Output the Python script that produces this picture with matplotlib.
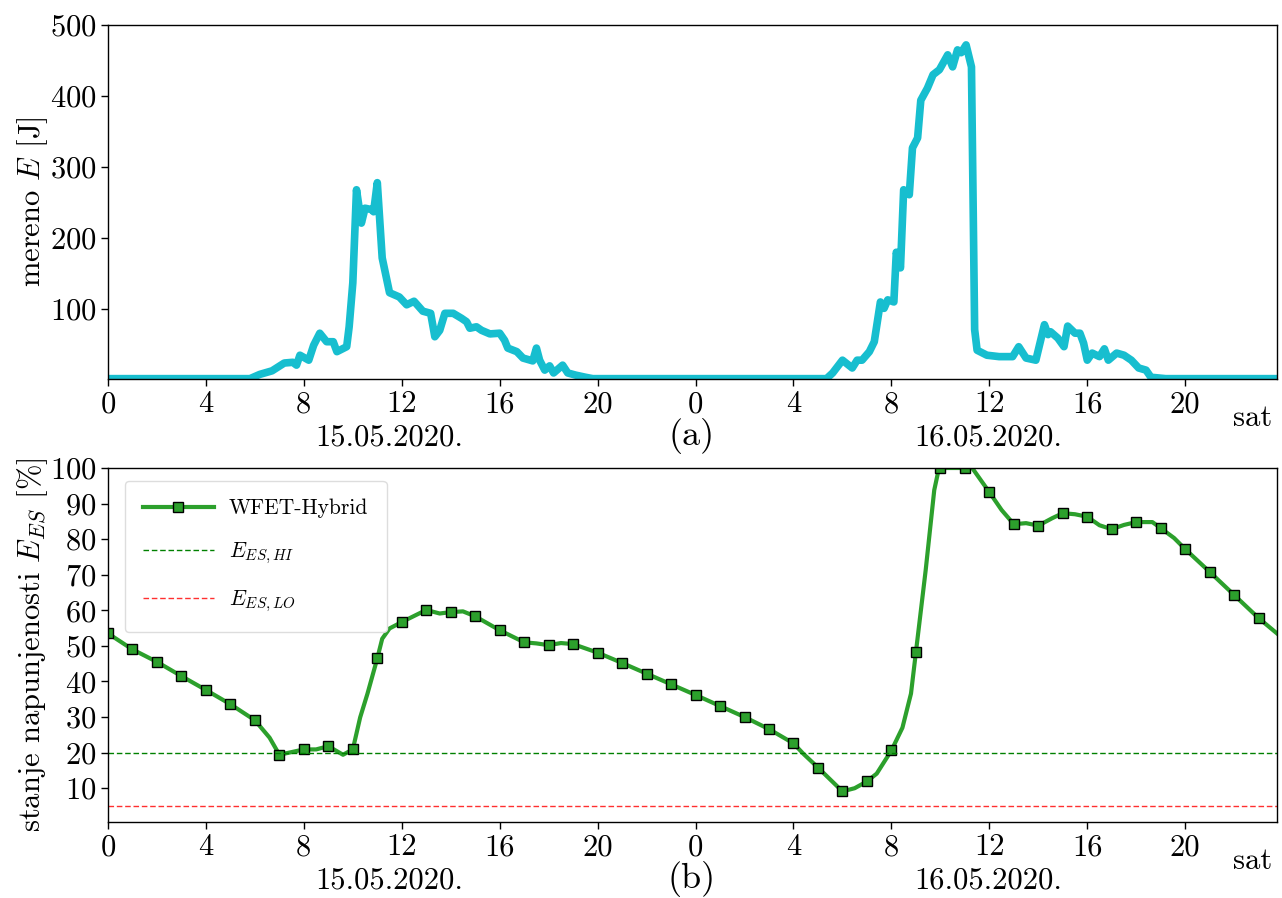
import matplotlib
matplotlib.use("Agg")
import matplotlib.pyplot as plt

plt.rcParams['font.family'] = ['cmr10', 'DejaVu Serif']
plt.rcParams['mathtext.fontset'] = 'cm'
plt.rcParams['axes.unicode_minus'] = False
plt.rcParams['axes.formatter.use_mathtext'] = True

# ---------------- data ----------------
# (a) measured harvested energy E [J]
top_t = [0, 5.8, 6.2, 6.7, 7.2, 7.55, 7.7, 7.84, 8.2, 8.4, 8.65, 8.93, 9.2, 9.35, 9.75, 9.85,
         10.0, 10.15, 10.35, 10.5, 10.77, 10.85, 11.0, 11.2, 11.5, 11.9, 12.2, 12.5, 12.86,
         13.18, 13.35, 13.55, 13.76, 14.1, 14.44, 14.65, 14.78, 15.05, 15.26, 15.6, 16.0,
         16.2, 16.33, 16.7, 16.95, 17.35, 17.5, 17.63, 17.84, 18.04, 18.2, 18.57, 18.78,
         19.1, 19.5, 19.8,
         29.35, 29.6, 30.0, 30.4, 30.6, 30.8, 31.1, 31.3, 31.55, 31.7, 31.85, 32.1, 32.2,
         32.37, 32.5, 32.73, 32.86, 33.07, 33.2, 33.47, 33.7, 33.96, 34.3, 34.5, 34.7,
         34.85, 35.05, 35.27, 35.4, 35.5, 35.9, 36.4, 36.95, 37.2, 37.5, 37.9, 38.25, 38.4,
         38.5, 38.8, 39.05, 39.2, 39.5, 39.7, 39.85, 40.0, 40.2, 40.5, 40.7, 40.86, 41.2,
         41.5, 41.8, 42.1, 42.4, 42.6, 43.2, 47.75]
top_E = [2, 2, 8, 13, 24, 25, 21, 35, 28, 49, 66, 54, 54, 40, 47, 75,
         137, 268, 221, 242, 240, 237, 278, 172, 123, 117, 106, 111, 97,
         94, 61, 70, 94, 94, 87, 82, 73, 75, 70, 65, 66,
         56, 45, 40, 31, 27, 45, 28, 14, 20, 10, 21, 10,
         7, 4, 2,
         2, 10, 28, 17, 28, 28, 40, 54, 110, 101, 113, 110, 180,
         158, 268, 261, 327, 341, 394, 411, 430, 437, 458, 441, 465,
         461, 472, 441, 71, 42, 35, 33, 33, 47, 31, 28, 78, 64,
         68, 59, 47, 76, 66, 66, 52, 28, 38, 33, 44, 28, 38,
         35, 28, 17, 14, 4, 2, 2]

# (b) state of charge E_ES [%]
soc_t = [0, 1, 2, 3, 4, 5, 6, 6.6, 7, 8, 8.5, 9, 9.6, 10, 10.3, 10.6, 11, 11.2, 11.5, 12, 13,
         13.55, 14, 14.5, 15, 16, 17, 17.5, 18, 18.5, 19, 20, 21, 22, 23, 24, 25, 26, 27,
         28, 28.4, 29, 30, 30.5, 31, 31.4, 32, 32.45, 32.8, 33, 33.4, 33.75, 33.9, 34, 35,
         35.3, 36, 36.5, 37, 37.5, 38, 38.57, 39, 39.5, 40, 40.5, 41, 41.5, 42, 42.66, 43,
         43.55, 44, 45, 46, 47, 47.75]
soc_v = [53.5, 49, 45.5, 41.5, 37.6, 33.6, 29.1, 24.2, 19.4, 20.9, 20.9, 21.8, 19.4, 20.9,
         29.9, 36.6, 46.5, 52, 54.9, 56.7, 60.1, 59.1, 59.5, 59.7, 58.3, 54.4, 51, 50.7,
         50.2, 50.8, 50.5, 48.1, 45.2, 42.2, 39.2, 36.2, 33.1, 30, 26.6, 22.6, 19.7, 15.8,
         9.1, 10, 11.9, 14.1, 20.6, 27, 36.6, 48.2, 71.3, 93.8, 98.6, 100, 100, 100, 93.2,
         88.2, 84.2, 84.5, 83.8, 85.9, 87.3, 87.0, 86.3, 83.9, 82.8, 84, 84.8, 84.8, 83.1,
         80.3, 77.2, 70.8, 64.3, 57.8, 53.5]

E_HI = 20
E_LO = 5

xtick_pos = [0, 4, 8, 12, 16, 20, 24, 28, 32, 36, 40, 44]
xtick_lab = ['0', '4', '8', '12', '16', '20', '0', '4', '8', '12', '16', '20']
day_labels = ['15.05.2020.', '16.05.2020.']

# ---------------- figure ----------------
fig = plt.figure(figsize=(12.82, 8.98), dpi=100)
ax1 = fig.add_axes([108/1282, 1 - 379/898, 1169/1282, 354/898])
ax2 = fig.add_axes([108/1282, 1 - 822/898, 1169/1282, 354/898])

FS = 22

ax1.plot(top_t, top_E, color='#17becf', lw=5.5, solid_joinstyle='round')
ax1.set_xlim(0, 47.75)
ax1.set_ylim(1.5, 500)
ax1.set_yticks([100, 200, 300, 400, 500])
ax1.set_ylabel(r'mereno $E$ [J]', fontsize=FS)

marks = [i for i, t in enumerate(soc_t) if float(t).is_integer()]
ax2.plot(soc_t, soc_v, color='#2ca02c', lw=3, marker='s', markevery=marks,
         markersize=7, markerfacecolor='#2ca02c', markeredgecolor='black',
         markeredgewidth=1.0, label='WFET-Hybrid')
ax2.axhline(E_HI, color='green', lw=1, ls='--', dashes=(4, 2), label=r'$E_{ES,HI}$')
ax2.axhline(E_LO, color='#ff3030', lw=1, ls='--', dashes=(4, 2), label=r'$E_{ES,LO}$')
ax2.set_xlim(0, 47.75)
ax2.set_ylim(0.5, 100)
ax2.set_yticks(range(10, 101, 10))
ax2.set_ylabel(r'stanje napunjenosti $E_{ES}$ [%]', fontsize=FS)

leg = ax2.legend(loc='upper left', fontsize=15.5, labelspacing=1.05, handlelength=3.3,
                 handletextpad=0.7, borderpad=0.85, bbox_to_anchor=(0.005, 0.995),
                 framealpha=1.0, edgecolor='#dddddd', fancybox=True)

for ax, tag in ((ax1, '(a)'), (ax2, '(b)')):
    ax.set_xticks(xtick_pos)
    ax.set_xticklabels(xtick_lab)
    ax.tick_params(axis='both', labelsize=FS, direction='out', length=5, width=1)
    for s in ax.spines.values():
        s.set_linewidth(1)
    ax.text(0.979, -0.11, 'sat', transform=ax.transAxes, ha='center', va='center', fontsize=FS)
    ax.text(0.241, -0.166, day_labels[0], transform=ax.transAxes, ha='center', va='center', fontsize=FS)
    ax.text(0.753, -0.166, day_labels[1], transform=ax.transAxes, ha='center', va='center', fontsize=FS)
    ax.text(0.4996, -0.16, tag, transform=ax.transAxes, ha='center', va='center', fontsize=FS + 4)
    ax.yaxis.set_label_coords(-0.05, 0.5)

fig.savefig('out.png', dpi=100)
